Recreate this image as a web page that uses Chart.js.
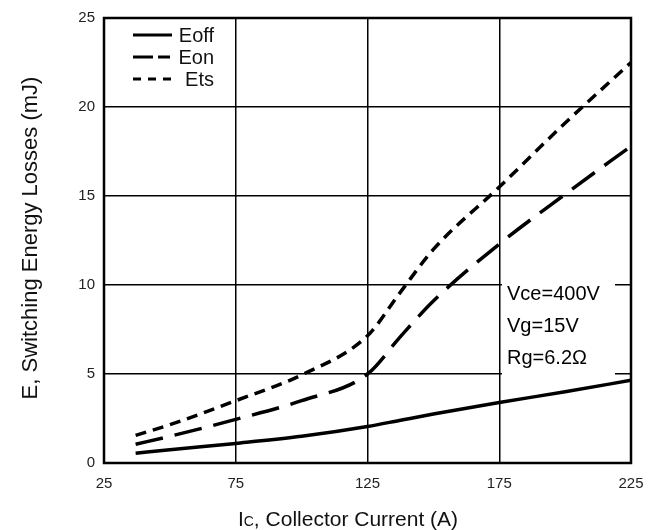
<!DOCTYPE html>
<html>
<head>
<meta charset="utf-8">
<script src="https://cdn.jsdelivr.net/npm/chart.js@4/dist/chart.umd.min.js"></script>
<style>
  html, body { margin: 0; padding: 0; background: #fff; }
  #wrap { width: 659px; height: 530px; }
</style>
</head>
<body>
<div id="wrap"><canvas id="lossChart" width="659" height="530"></canvas></div>
<script>
// collector current (A) and switching energies (mJ)
const currentA = [37, 50, 75, 100, 125, 137.5, 150, 175, 200, 225];
const eoff = [0.55, 0.75, 1.1, 1.5, 2.05, 2.4, 2.75, 3.4, 4.0, 4.65];
const eon = [1.05, 1.5, 2.45, 3.5, 5.0, 7.1, 9.1, 12.3, 15.1, 17.8];
const ets = [1.55, 2.15, 3.5, 4.95, 7.15, 9.6, 12.0, 15.5, 19.1, 22.5];

const xTicks = [25, 75, 125, 175, 225];
const yTicks = [0, 5, 10, 15, 20, 25];
const conditions = ["Vce=400V", "Vg=15V", "Rg=6.2\u03A9"];

const FONT = '"Liberation Sans", Arial, sans-serif';

function points(ys) {
  return currentA.map((x, i) => ({ x, y: ys[i] }));
}

function series(label, ys, dash, legendDash) {
  return {
    label,
    data: points(ys),
    borderColor: "#000",
    borderWidth: 3.5,
    borderDash: dash,
    borderCapStyle: "butt",
    pointRadius: 0,
    fill: false,
    cubicInterpolationMode: "monotone",
    legendDash
  };
}

// white box with the test conditions, drawn over the grid
const conditionsBox = {
  id: "conditionsBox",
  beforeDatasetsDraw(chart) {
    const ctx = chart.ctx;
    ctx.save();
    ctx.fillStyle = "#fff";
    ctx.fillRect(502, 279, 113, 97);
    ctx.fillStyle = "#000";
    ctx.font = "20px " + FONT;
    ctx.textBaseline = "middle";
    ctx.textAlign = "left";
    conditions.forEach((t, i) => ctx.fillText(t, 507, 294 + i * 32));
    ctx.restore();
  }
};

// frame, legend and axis titles
const decorations = {
  id: "decorations",
  afterDatasetsDraw(chart) {
    const { left, top, right, bottom } = chart.chartArea;
    const ctx = chart.ctx;
    ctx.save();
    ctx.strokeStyle = "#000";
    ctx.lineWidth = 2.5;
    ctx.strokeRect(left, top, right - left, bottom - top);
    ctx.restore();
  },
  afterDraw(chart) {
    const ctx = chart.ctx;
    ctx.save();
    ctx.fillStyle = "#111";
    ctx.strokeStyle = "#000";

    // legend
    chart.data.datasets.forEach((ds, i) => {
      const y = 35 + i * 22;
      ctx.lineWidth = 3;
      ctx.setLineDash(ds.legendDash);
      ctx.beginPath();
      ctx.moveTo(133, y);
      ctx.lineTo(172, y);
      ctx.stroke();
      ctx.setLineDash([]);
      ctx.font = "20px " + FONT;
      ctx.textAlign = "right";
      ctx.textBaseline = "middle";
      ctx.fillText(ds.label, 214, y + 1);
    });

    // y title
    ctx.save();
    ctx.translate(31, 238);
    ctx.rotate(-Math.PI / 2);
    ctx.font = "22px " + FONT;
    ctx.textAlign = "center";
    ctx.textBaseline = "middle";
    ctx.fillText("E, Switching Energy Losses (mJ)", 0, 0);
    ctx.restore();

    // x title with subscript C
    const big = "21px " + FONT, small = "14px " + FONT;
    const parts = [["I", big], ["C", small], [", Collector Current (A)", big]];
    let w = 0;
    for (const [t, f] of parts) { ctx.font = f; w += ctx.measureText(t).width; }
    let x = 348 - w / 2;
    ctx.textAlign = "left";
    ctx.textBaseline = "alphabetic";
    for (const [t, f] of parts) {
      ctx.font = f;
      ctx.fillText(t, x, 526);
      x += ctx.measureText(t).width;
    }
    ctx.restore();
  }
};

new Chart(document.getElementById("lossChart"), {
  type: "line",
  data: {
    datasets: [
      series("Eoff", eoff, [], []),
      series("Eon", eon, [28, 12], [20, 5, 12, 50]),
      series("Ets", ets, [11, 7], [8, 7])
    ]
  },
  options: {
    responsive: false,
    animation: false,
    devicePixelRatio: 1,
    layout: { padding: { top: 13, right: 28, left: 0, bottom: 0 } },
    plugins: {
      legend: { display: false },
      tooltip: { enabled: false }
    },
    scales: {
      x: {
        type: "linear",
        min: 25,
        max: 225,
        afterBuildTicks: (s) => { s.ticks = xTicks.map((v) => ({ value: v })); },
        afterFit: (s) => { s.height = 67; },
        ticks: { color: "#222", font: { size: 15, family: FONT }, padding: 12, maxRotation: 0 },
        grid: { color: "#000", lineWidth: 1.5, drawTicks: false },
        border: { display: false }
      },
      y: {
        min: 0,
        max: 25,
        afterBuildTicks: (s) => { s.ticks = yTicks.map((v) => ({ value: v })); },
        afterFit: (s) => { s.width = 104; },
        ticks: { color: "#222", font: { size: 15, family: FONT }, padding: 9 },
        grid: { color: "#000", lineWidth: 1.5, drawTicks: false },
        border: { display: false }
      }
    }
  },
  plugins: [conditionsBox, decorations]
});
</script>
</body>
</html>
